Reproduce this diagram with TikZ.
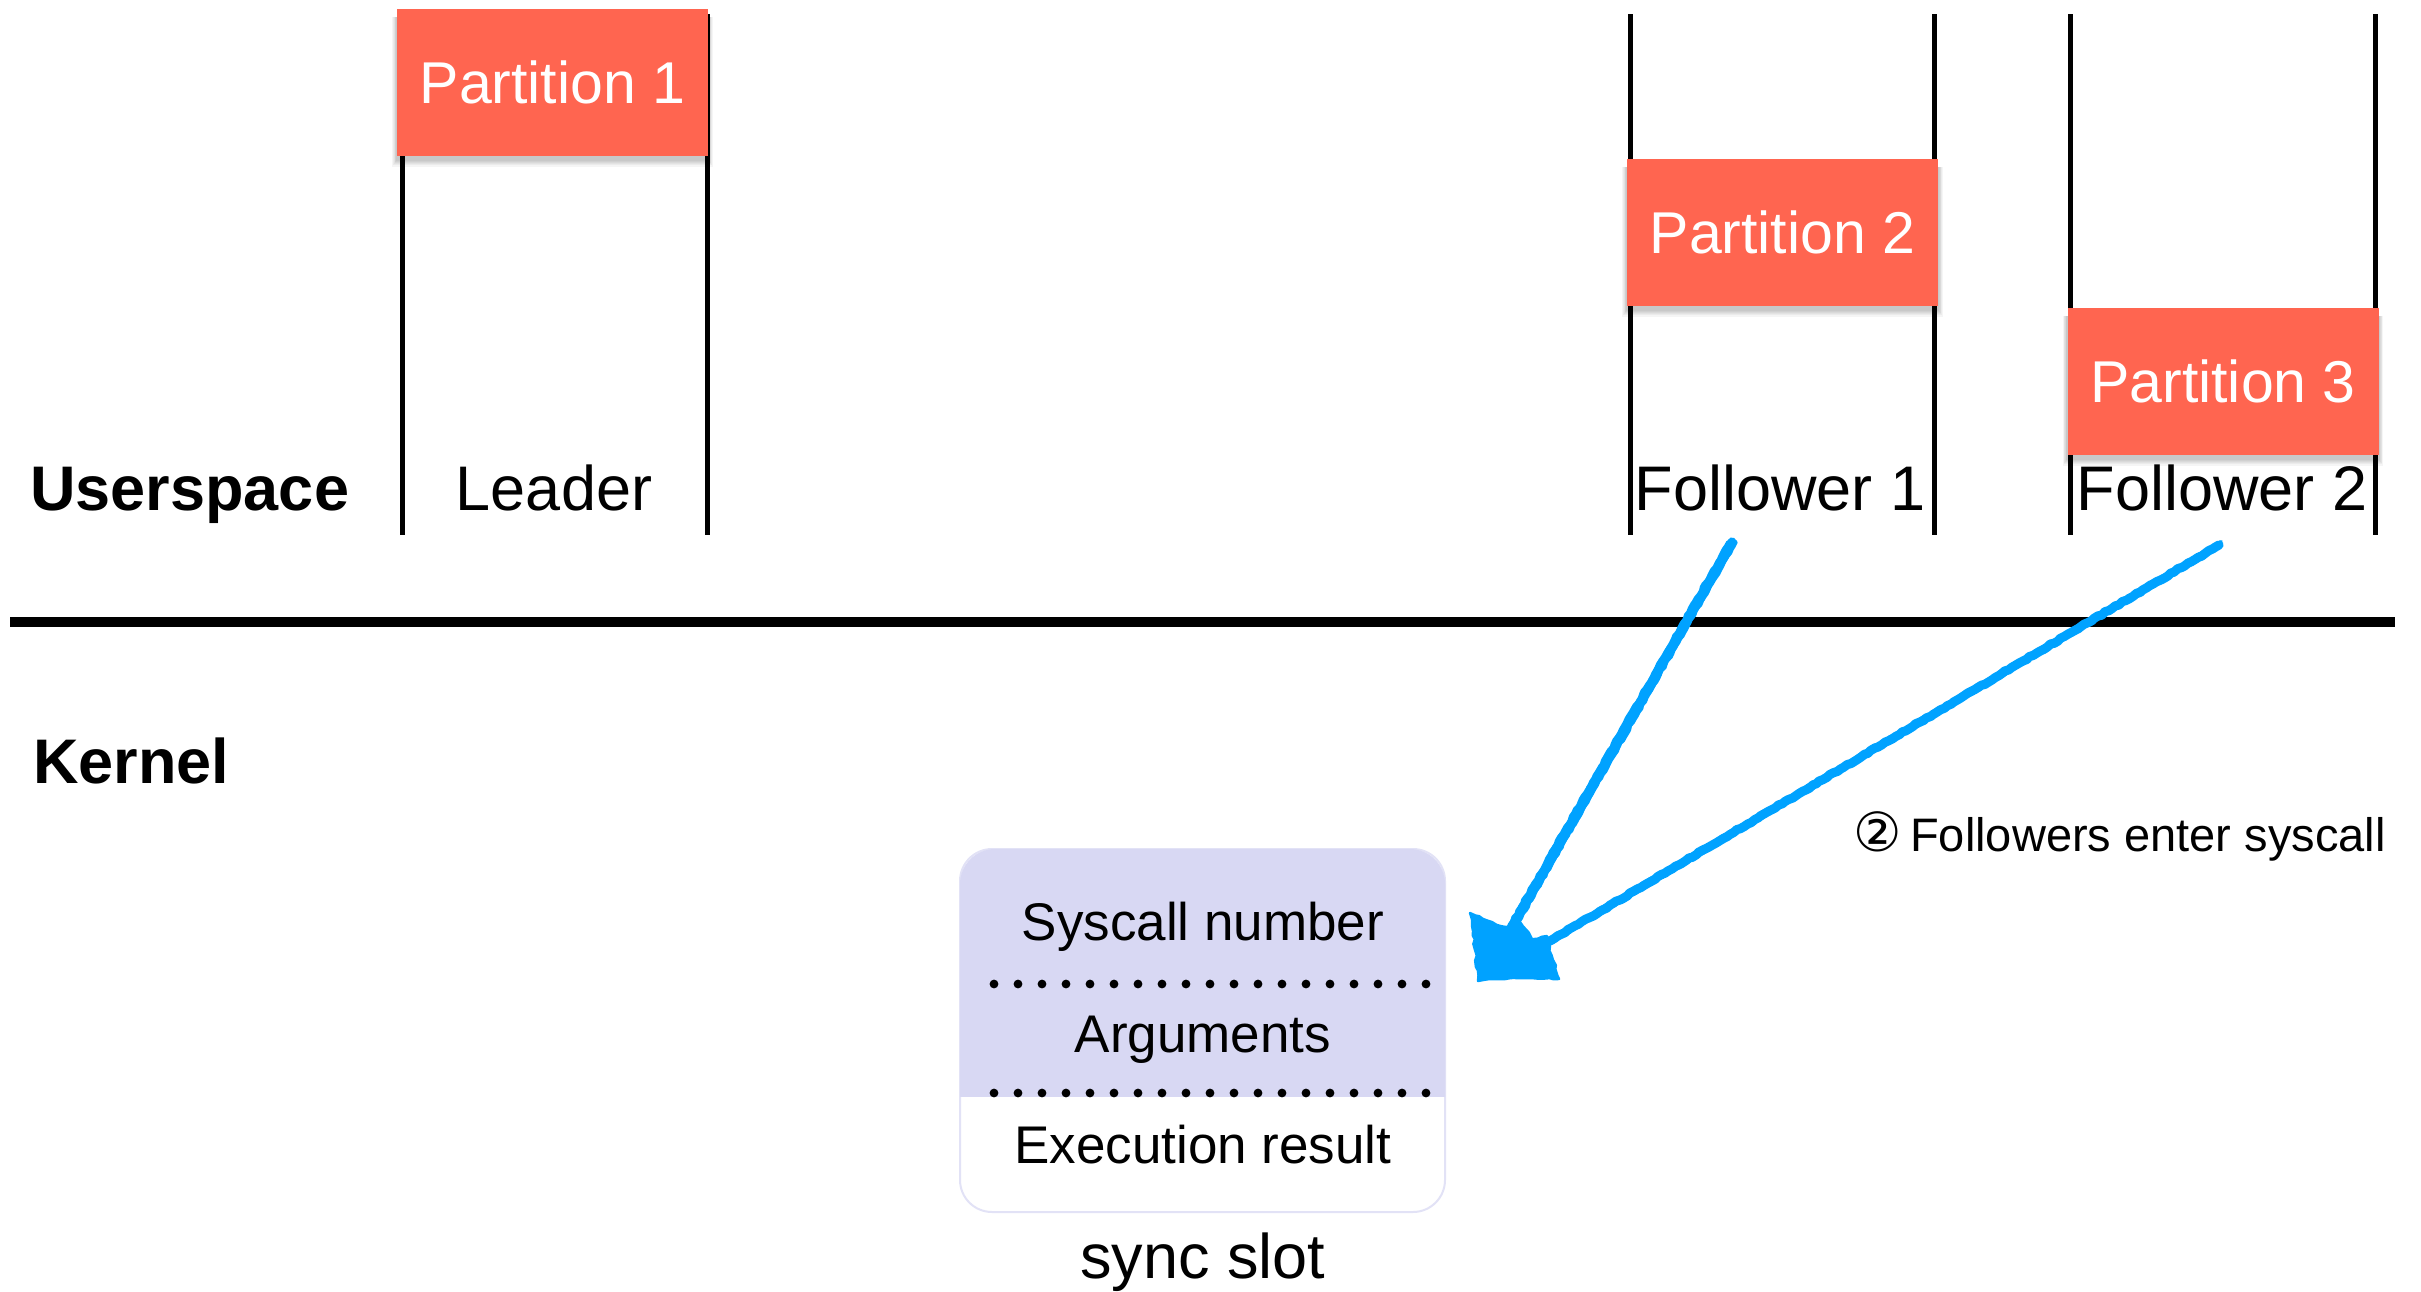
\documentclass[tikz,border=0pt]{standalone}
\usepackage{fontspec}
\setmainfont{Liberation Sans}
\newfontfamily\symfont{DejaVu Sans}
\usetikzlibrary{decorations.pathmorphing,backgrounds}
\definecolor{partred}{RGB}{255,101,80}
\definecolor{lav}{RGB}{216,216,243}
\definecolor{lavedge}{RGB}{226,226,246}
\definecolor{sketchblue}{RGB}{0,162,255}
\begin{document}
\begin{tikzpicture}[x=0.5pt,y=-0.5pt,
  partbox/.style={fill=partred,text=white,minimum width=155.5pt,minimum height=73.5pt,
    inner sep=0pt,font=\fontsize{29.5}{32}\selectfont},
  lane/.style={line width=2.5pt},
  bigtext/.style={font=\fontsize{31.5}{34}\selectfont,inner sep=0pt},
  headtext/.style={font=\bfseries\fontsize{31.5}{34}\selectfont,inner sep=0pt},
  fieldtext/.style={font=\fontsize{26.5}{28}\selectfont,inner sep=0pt},
  sketch/.style={draw=sketchblue,line cap=round,line join=round,decorate,
    decoration={random steps,segment length=2pt,amplitude=0.35pt}},
]
\pgfmathsetseed{7}
\useasboundingbox (0,0) rectangle (2421,1291);

% process lanes
\foreach \x in {402,707,1630,1934,2070,2375}
  \draw[lane] (\x,14) -- (\x,535);

% partitions
\node[partbox] (p1) at (552.5,82.5) {Partition 1};
\node[partbox] (p2) at (1782.5,232.5) {Partition 2};
\node[partbox] (p3) at (2223,381.5) {Partition 3};

% soft shadows under the partitions
\begin{pgfonlayer}{background}
  \foreach \b in {p1,p2,p3}{
    \foreach \k in {1,...,6}{
      \fill[black,opacity=0.04]
        ([xshift={-0.35pt*\k},yshift={-1.5pt-0.6pt*\k}]\b.south west)
        rectangle ([xshift={0.35pt*\k},yshift=-4pt]\b.north east);
    }
  }
\end{pgfonlayer}

% labels in userspace
\node[headtext,anchor=base west] (user) at (30,510) {Userspace};
\node[bigtext,anchor=base] (leader) at (554,510) {Leader};
\node[bigtext,anchor=base] (fol1) at (1780,510) {Follower 1};
\node[bigtext,anchor=base] (fol2) at (2222,510) {Follower 2};

% user/kernel boundary
\draw[line width=5pt] (10,622) -- (2395,622);
\node[headtext,anchor=base west] (kernel) at (33,783) {Kernel};

% sync slot
\fill[white,draw=lavedge,line width=1pt,rounded corners=16pt] (960,849) rectangle (1445,1212);
\begin{scope}
  \clip (950,840) rectangle (1455,1096);
  \fill[lav,rounded corners=17.5pt] (960,849) rectangle (1445,1212);
\end{scope}
\foreach \k in {0,...,18}{
  \fill (994+24*\k,984) circle (2.2pt);
  \fill (994+24*\k,1093) circle (2.2pt);
}
\node[fieldtext,anchor=base] (sysno) at (1203,940) {Syscall number};
\node[fieldtext,anchor=base] (args) at (1203,1052) {Arguments};
\node[fieldtext,anchor=base] (result) at (1203,1163) {Execution result};
\node[bigtext,anchor=base] (slotname) at (1203,1278) {sync slot};

% followers enter the syscall: hand-drawn strokes meeting in one head
\coordinate (s1) at (1732,542);
\coordinate (e1) at (1508,934);
\coordinate (s2) at (2219,545);
\coordinate (e2) at (1538,948);
\coordinate (tip) at (1478,981);
\foreach \d/\w in {0/4.6, 2/1.8, -2/1.8, 1/1.4, -1/1.4}{
  \draw[sketch,line width=\w pt] ([xshift=\d pt]s1) -- ([xshift=\d pt]e1);
  \draw[sketch,line width=\w pt] ([xshift=0.5*\d pt,yshift=0.85*\d pt]s2)
    -- ([xshift=0.5*\d pt,yshift=0.85*\d pt]e2);
}
\fill[sketchblue,draw=sketchblue,line width=1.2pt,line join=round,decorate,
  decoration={random steps,segment length=2.5pt,amplitude=0.6pt}]
  (1470,913) -- (1492,922) -- (1506,927) -- (1520,922) -- (1532,939) -- (1547,936)
  -- (1553,960) -- (1559,979) -- (1515,978) -- (tip) -- (1475,950) -- cycle;

\node[anchor=base east,inner sep=0pt,font=\fontsize{23.5}{26}\selectfont] (step2) at (2386,851)
  {{\symfont\fontsize{27}{27}\selectfont ②}\hspace{4pt}Followers enter syscall};
\end{tikzpicture}
\end{document}
